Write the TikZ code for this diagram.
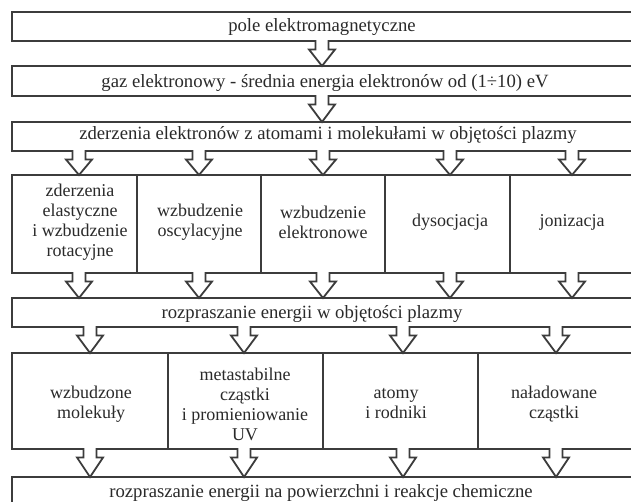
\documentclass[tikz,border=0pt]{standalone}
\usepackage{fontspec}
\setmainfont{Liberation Serif}
\usetikzlibrary{calc}
\definecolor{linec}{HTML}{3C3C3C}
\definecolor{textc}{HTML}{2A2A2A}
% hollow block arrow at x=#1 (px) from the bottom of node #2 to the top of node #3
\newcommand\blockarrow[3]{%
  \fill[white] let \p1=(#2.south), \p2=(#3.north) in
    ({#1pt-6.5pt},{\y1+1.3pt}) -- ({#1pt-6.5pt},{\y1-8.5pt}) -- ({#1pt-13pt},{\y1-8.5pt})
    -- ({#1pt},{\y2+1pt}) -- ({#1pt+13pt},{\y1-8.5pt}) -- ({#1pt+6.5pt},{\y1-8.5pt})
    -- ({#1pt+6.5pt},{\y1+1.3pt}) -- cycle;
  \draw[arr] let \p1=(#2.south), \p2=(#3.north) in
    ({#1pt-6.5pt},{\y1+0.85pt}) -- ({#1pt-6.5pt},{\y1-8.5pt}) -- ({#1pt-13pt},{\y1-8.5pt})
    -- ({#1pt},{\y2}) -- ({#1pt+13pt},{\y1-8.5pt}) -- ({#1pt+6.5pt},{\y1-8.5pt})
    -- ({#1pt+6.5pt},{\y1+0.85pt});
}
\begin{document}
\begin{tikzpicture}[x=1pt,y=-1pt,
  boxst/.style={draw=linec,line width=1.8pt,fill=white,inner sep=0pt,outer sep=0pt,anchor=north west},
  arr/.style={draw=linec,line width=1.8pt,line join=miter},
  lbl/.style={text=textc,font=\fontsize{18.7}{20}\selectfont,align=center,inner sep=0pt},
  clbl/.style={text=textc,font=\fontsize{18}{20}\selectfont,align=center,inner sep=0pt}]
\useasboundingbox (0,0) rectangle (631,502);
\fill[white] (0,0) rectangle (631,502);
% single boxes
\node[boxst,minimum width=622pt,minimum height=29pt] (b1) at (12,12) {};
\node[boxst,minimum width=622pt,minimum height=30pt] (b2) at (12,66) {};
\node[boxst,minimum width=622pt,minimum height=29pt] (b3) at (12,122) {};
\node[boxst,minimum width=622pt,minimum height=29pt] (b5) at (12,298) {};
\node[boxst,minimum width=622pt,minimum height=40pt] (b6) at (12,477) {};
% row of five
\node[boxst,minimum width=125pt,minimum height=98pt] (c1) at (12,175) {};
\node[boxst,minimum width=124pt,minimum height=98pt] (c2) at (137,175) {};
\node[boxst,minimum width=124pt,minimum height=98pt] (c3) at (261,175) {};
\node[boxst,minimum width=125pt,minimum height=98pt] (c4) at (385,175) {};
\node[boxst,minimum width=124pt,minimum height=98pt] (c5) at (510,175) {};
% row of four
\node[boxst,minimum width=156pt,minimum height=96pt] (d1) at (12,353) {};
\node[boxst,minimum width=155pt,minimum height=96pt] (d2) at (168,353) {};
\node[boxst,minimum width=155pt,minimum height=96pt] (d3) at (323,353) {};
\node[boxst,minimum width=156pt,minimum height=96pt] (d4) at (478,353) {};
% arrows
\blockarrow{322}{b1}{b2}
\blockarrow{322}{b2}{b3}
\blockarrow{79}{b3}{c1}
\blockarrow{199}{b3}{c2}
\blockarrow{323}{b3}{c3}
\blockarrow{450}{b3}{c4}
\blockarrow{572}{b3}{c5}
\blockarrow{79}{c1}{b5}
\blockarrow{199}{c2}{b5}
\blockarrow{323}{c3}{b5}
\blockarrow{450}{c4}{b5}
\blockarrow{572}{c5}{b5}
\blockarrow{90}{b5}{d1}
\blockarrow{244}{b5}{d2}
\blockarrow{403}{b5}{d3}
\blockarrow{556}{b5}{d4}
\blockarrow{90}{d1}{b6}
\blockarrow{244}{d2}{b6}
\blockarrow{403}{d3}{b6}
\blockarrow{556}{d4}{b6}
% texts
\node[lbl,anchor=base] (t1) at (322,32) {pole elektromagnetyczne};
\node[lbl,anchor=base] (t2) at (325,88) {gaz elektronowy - średnia energia elektronów od (1÷10) eV};
\node[lbl,anchor=base] (t3) at (328,140) {zderzenia elektronów z atomami i molekułami w objętości plazmy};
\node[lbl,anchor=base] (t5) at (312,318) {rozpraszanie energii w objętości plazmy};
\node[lbl,anchor=base] (t6) at (321,497) {rozpraszanie energii na powierzchni i reakcje chemiczne};
\node[clbl] (tc1) at (80,222.5) {zderzenia\\elastyczne\\i wzbudzenie\\rotacyjne};
\node[clbl] (tc2) at (200,222.5) {wzbudzenie\\oscylacyjne};
\node[clbl] (tc3) at (323,222.5) {wzbudzenie\\elektronowe};
\node[clbl] (tc4) at (450,222.5) {dysocjacja};
\node[clbl] (tc5) at (572,222.5) {jonizacja};
\node[clbl] (td1) at (91,404) {wzbudzone\\molekuły};
\node[clbl] (td2) at (245,404) {metastabilne\\cząstki\\i promieniowanie\\UV};
\node[clbl] (td3) at (396,404) {atomy\\i rodniki};
\node[clbl] (td4) at (554,404) {naładowane\\cząstki};
\end{tikzpicture}
\end{document}
